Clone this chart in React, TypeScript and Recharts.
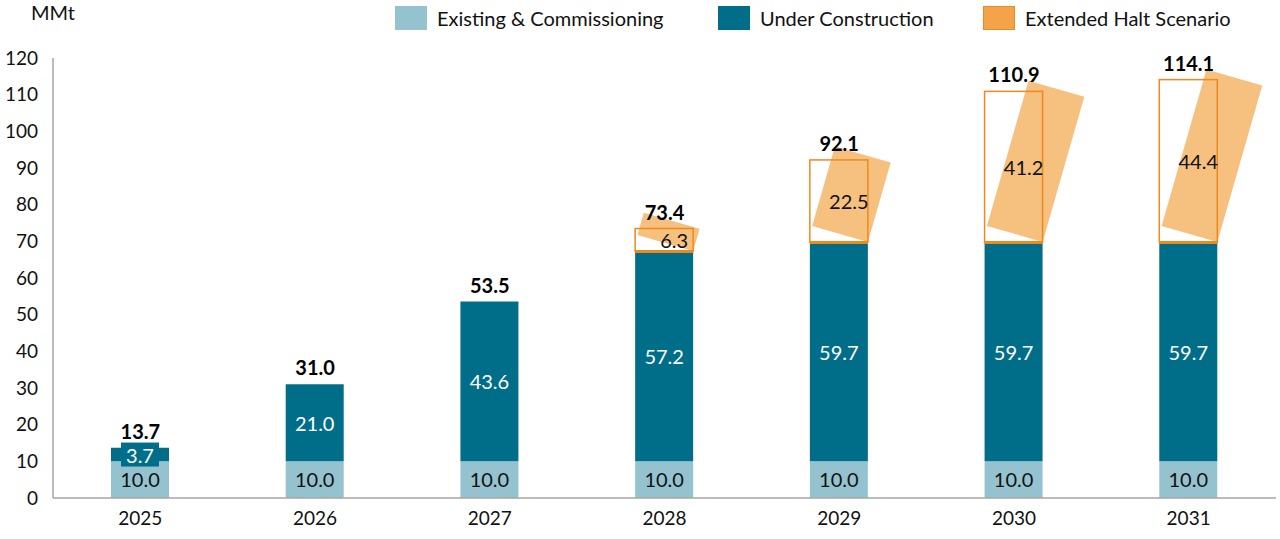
import React from 'react';
import {
  ComposedChart,
  Bar,
  Line,
  XAxis,
  YAxis,
  Legend,
  LabelList,
  Label,
} from 'recharts';

const years = ['2025', '2026', '2027', '2028', '2029', '2030', '2031'];
const existing = [10.0, 10.0, 10.0, 10.0, 10.0, 10.0, 10.0];
const underConstruction = [3.7, 21.0, 43.6, 57.2, 59.7, 59.7, 59.7];
const extendedHalt = [null, null, null, 6.3, 22.5, 41.2, 44.4];
const totals = [13.7, 31.0, 53.5, 73.4, 92.1, 110.9, 114.1];
const yTicks = [0, 10, 20, 30, 40, 50, 60, 70, 80, 90, 100, 110, 120];

const LIGHT = '#95C2CF';
const TEAL = '#006E89';
const HALT = '#EC8A1E';
const HALT_FILL = '#F6C07E';
const FONT = 'Lato, sans-serif';

const data = years.map((year, i) => ({
  year,
  existing: existing[i],
  underConstruction: underConstruction[i],
  extendedHalt: extendedHalt[i],
  total: totals[i],
}));

const legendItems = [
  { label: 'Existing & Commissioning', color: LIGHT, border: LIGHT, left: 395 },
  { label: 'Under Construction', color: TEAL, border: TEAL, left: 718 },
  { label: 'Extended Halt Scenario', color: '#F4A448', border: HALT, left: 983 },
];

// legend is 40px tall; recharts adds it to the top margin
function ChartLegend() {
  return (
    <div style={{ position: 'relative', width: 1280, height: 40, fontFamily: FONT }}>
      {legendItems.map((item) => (
        <div
          key={item.label}
          style={{ position: 'absolute', left: item.left, top: 6, display: 'flex', alignItems: 'center' }}
        >
          <span
            style={{
              width: 32,
              height: 24,
              background: item.color,
              border: `1px solid ${item.border}`,
              boxSizing: 'border-box',
              display: 'inline-block',
            }}
          />
          <span style={{ marginLeft: 10, fontSize: 20, color: '#111' }}>{item.label}</span>
        </div>
      ))}
    </div>
  );
}

function HaltShape(props: any) {
  const { x, y, width, height } = props;
  if (!height) return null;
  return (
    <g>
      <rect
        x={x}
        y={y}
        width={width}
        height={height}
        fill={HALT_FILL}
        transform={`rotate(16 ${x + width + 2} ${y + height})`}
      />
      <rect x={x} y={y} width={width} height={height} fill="none" stroke={HALT} strokeWidth={1.5} />
      <line x1={x} x2={x + width} y1={y + height} y2={y + height} stroke={HALT} strokeWidth={3} />
    </g>
  );
}

function ConstructionLabel(props: any) {
  const { x, y, width, height, value } = props;
  const cx = x + width / 2;
  const cy = y + height / 2;
  return (
    <g>
      {height < 24 && <rect x={cx - 19} y={cy - 12} width={38} height={24} fill={TEAL} />}
      <text x={cx} y={cy} fill="#fff" fontSize={20} fontFamily={FONT} textAnchor="middle" dominantBaseline="central">
        {value.toFixed(1)}
      </text>
    </g>
  );
}

function HaltLabel(props: any) {
  const { x, y, width, height, value } = props;
  if (value == null) return null;
  return (
    <text
      x={x + width / 2 + 10}
      y={y + height / 2}
      fill="#111"
      fontSize={20}
      fontFamily={FONT}
      textAnchor="middle"
      dominantBaseline="central"
    >
      {value.toFixed(1)}
    </text>
  );
}

export default function App() {
  return (
    <div style={{ position: 'absolute', left: 0, top: 0, background: '#fff' }}>
      <ComposedChart
        width={1280}
        height={539}
        data={data}
        margin={{ top: 18, right: 4, bottom: 0, left: 0 }}
        barSize={58}
      >
        <XAxis
          dataKey="year"
          axisLine={{ stroke: '#A6A6A6', strokeWidth: 1.5 }}
          tickLine={false}
          tickSize={0}
          tickMargin={14}
          height={41}
          tick={{ fontSize: 19, fill: '#111', fontFamily: FONT }}
        />
        <YAxis
          domain={[0, 120]}
          ticks={yTicks}
          interval={0}
          width={53}
          axisLine={{ stroke: '#A6A6A6', strokeWidth: 1.5 }}
          tickLine={false}
          tickSize={0}
          tickMargin={15}
          tick={{ fontSize: 19, fill: '#111', fontFamily: FONT }}
        >
          <Label
            content={() => (
              <text x={31} y={20} fontSize={20} fontFamily={FONT} fill="#111">
                MMt
              </text>
            )}
          />
        </YAxis>
        <Legend verticalAlign="top" wrapperStyle={{ top: 0, left: 0 }} content={() => <ChartLegend />} />
        <Bar dataKey="existing" stackId="a" fill={LIGHT} isAnimationActive={false}>
          <LabelList
            dataKey="existing"
            position="center"
            fill="#111"
            fontSize={20}
            fontFamily={FONT}
            formatter={(v: any) => Number(v).toFixed(1)}
          />
        </Bar>
        <Bar dataKey="underConstruction" stackId="a" fill={TEAL} isAnimationActive={false}>
          <LabelList dataKey="underConstruction" content={<ConstructionLabel />} />
        </Bar>
        <Bar dataKey="extendedHalt" stackId="a" shape={<HaltShape />} isAnimationActive={false}>
          <LabelList dataKey="extendedHalt" content={<HaltLabel />} />
        </Bar>
        <Line
          dataKey="total"
          stroke="none"
          dot={false}
          activeDot={false}
          legendType="none"
          isAnimationActive={false}
        >
          <LabelList
            dataKey="total"
            position="top"
            offset={9}
            fill="#000"
            fontSize={20}
            fontWeight="bold"
            fontFamily={FONT}
            formatter={(v: any) => Number(v).toFixed(1)}
          />
        </Line>
      </ComposedChart>
    </div>
  );
}
